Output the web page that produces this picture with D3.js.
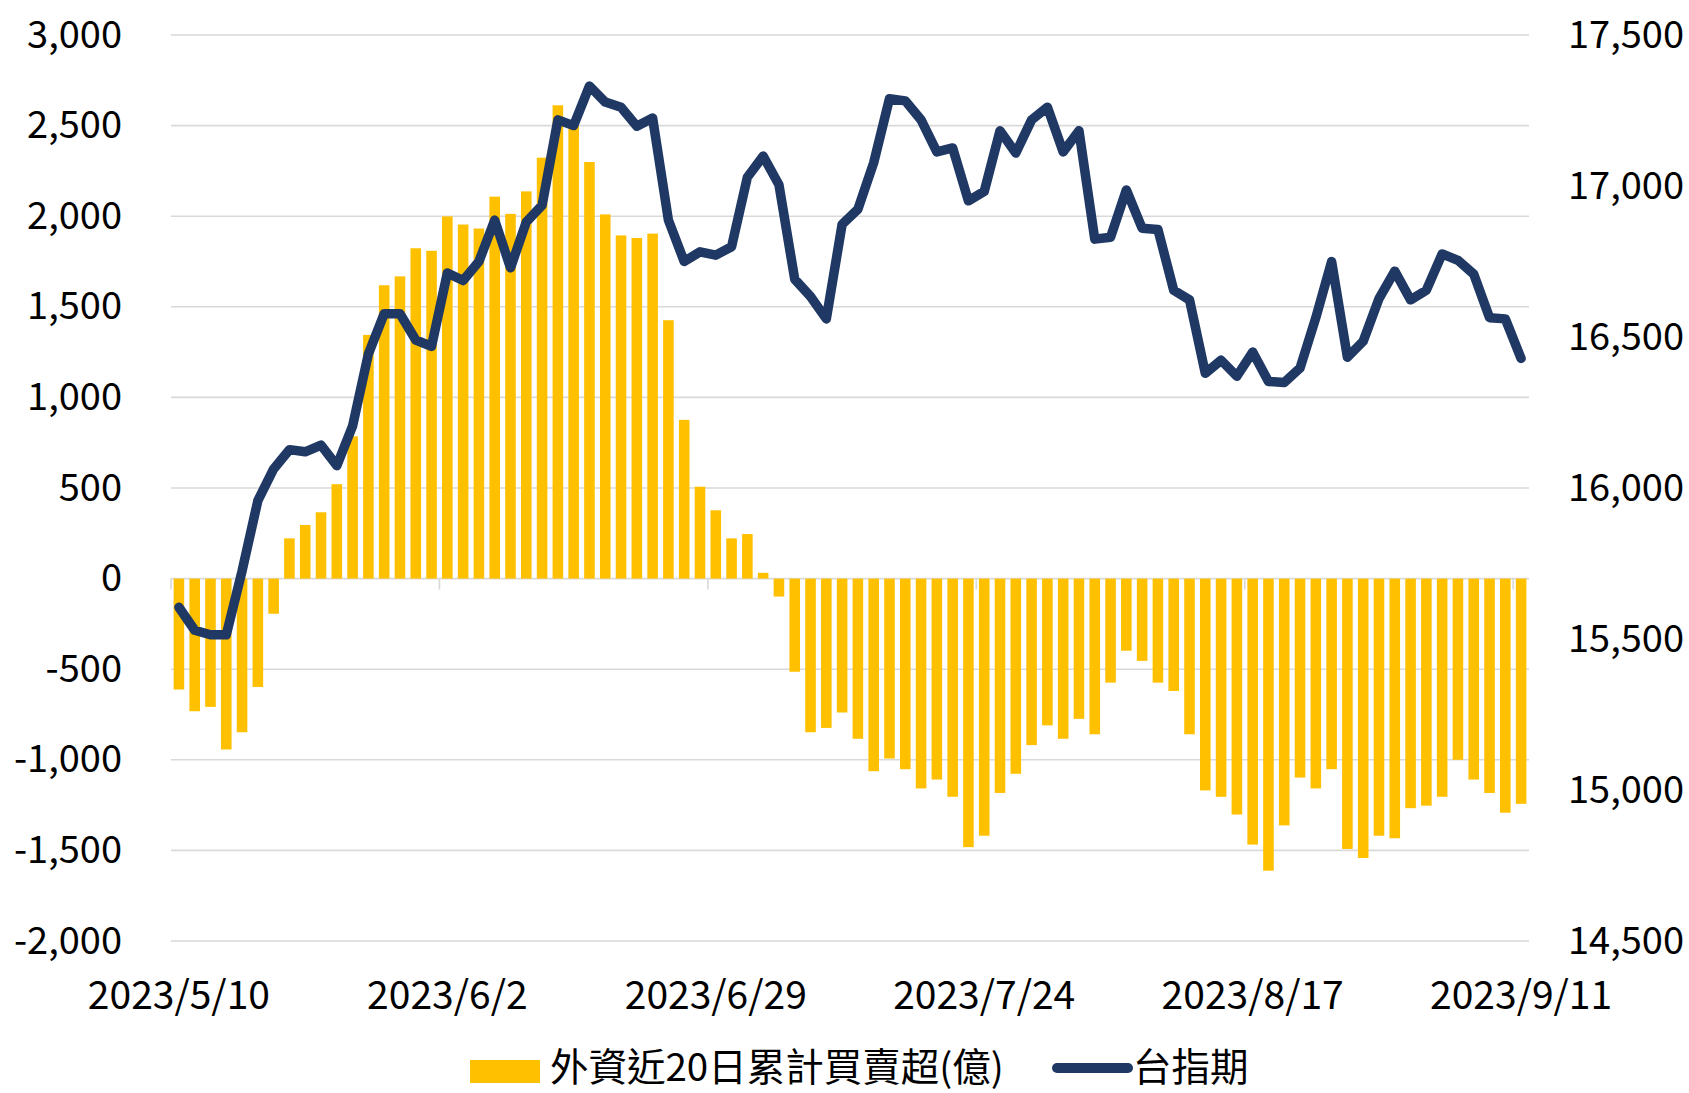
<!DOCTYPE html>
<html>
<head>
<meta charset="utf-8">
<script src="https://cdn.jsdelivr.net/npm/d3@7"></script>
<style>
  body { margin: 0; background: #fff; }
  text { font-family: "Noto Sans CJK TC", "Noto Sans", sans-serif; fill: #000; }
</style>
</head>
<body>
<div id="chart"></div>
<script>
// trading days shown on the category axis
const dates = [
  '2023/5/10','2023/5/11','2023/5/12','2023/5/15','2023/5/16','2023/5/17','2023/5/18','2023/5/19',
  '2023/5/22','2023/5/23','2023/5/24','2023/5/25','2023/5/26','2023/5/29','2023/5/30','2023/5/31',
  '2023/6/1','2023/6/2','2023/6/5','2023/6/6','2023/6/7','2023/6/8','2023/6/9','2023/6/12',
  '2023/6/13','2023/6/14','2023/6/15','2023/6/16','2023/6/19','2023/6/20','2023/6/21','2023/6/26',
  '2023/6/27','2023/6/28','2023/6/29','2023/6/30','2023/7/3','2023/7/4','2023/7/5','2023/7/6',
  '2023/7/7','2023/7/10','2023/7/11','2023/7/12','2023/7/13','2023/7/14','2023/7/17','2023/7/18',
  '2023/7/19','2023/7/20','2023/7/21','2023/7/24','2023/7/25','2023/7/26','2023/7/27','2023/7/28',
  '2023/7/31','2023/8/1','2023/8/2','2023/8/4','2023/8/7','2023/8/8','2023/8/9','2023/8/10',
  '2023/8/11','2023/8/14','2023/8/15','2023/8/16','2023/8/17','2023/8/18','2023/8/21','2023/8/22',
  '2023/8/23','2023/8/24','2023/8/25','2023/8/28','2023/8/29','2023/8/30','2023/8/31','2023/9/1',
  '2023/9/4','2023/9/5','2023/9/6','2023/9/7','2023/9/8','2023/9/11'
]
// 外資近20日累計買賣超(億)
const foreignNet = [
  -612,-732,-708,-943,-848,-598,-194,222,296,366,521,785,1345,1619,1668,1823,
  1809,1999,1954,1932,2108,2013,2137,2323,2612,2500,2299,2010,1894,1880,1904,1426,
  876,507,377,222,246,32,-99,-514,-848,-824,-739,-884,-1063,-993,-1052,-1158,
  -1109,-1204,-1482,-1419,-1183,-1077,-919,-810,-884,-774,-859,-574,-398,-454,-574,-620,
  -859,-1169,-1204,-1302,-1468,-1612,-1362,-1098,-1158,-1052,-1492,-1542,-1419,-1433,-1267,-1253,
  -1204,-1000,-1109,-1183,-1292,-1243
]
// 台指期
const futures = [
  15605,15529,15514,15514,15725,15958,16063,16127,16120,16142,16074,16205,16444,16577,16577,16490,
  16469,16712,16687,16750,16887,16729,16881,16936,17219,17200,17331,17278,17261,17198,17225,16887,
  16750,16782,16771,16799,17029,17099,17004,16691,16634,16560,16873,16923,17077,17289,17282,17219,
  17113,17126,16951,16982,17183,17109,17219,17261,17113,17183,16824,16830,16987,16860,16856,16655,
  16623,16380,16423,16370,16450,16353,16349,16397,16564,16750,16433,16486,16627,16718,16623,16655,
  16775,16754,16708,16564,16560,16429
]
const tickLabels = ['2023/5/10','2023/6/2','2023/6/29','2023/7/24','2023/8/17','2023/9/11']
const leftTicks = [-2000,-1500,-1000,-500,0,500,1000,1500,2000,2500,3000]
const rightTicks = [14500,15000,15500,16000,16500,17000,17500]
const seriesNames = ['外資近20日累計買賣超(億)', '台指期']

const W = 1689, H = 1093
const margin = { top: 35, right: 160, bottom: 152, left: 171 }
const width = W - margin.left - margin.right
const height = H - margin.top - margin.bottom
const barColor = '#FFC000'
const lineColor = '#1F3864'
const gridColor = '#D9D9D9'

const fmt = d3.formatLocale({ decimal: '.', thousands: ',', grouping: [3], currency: ['', ''], minus: '-' }).format(',')

const svg = d3.select('#chart').append('svg')
  .attr('width', W)
  .attr('height', H)
const g = svg.append('g')
  .attr('transform', 'translate(' + margin.left + ',' + margin.top + ')')

const x = d3.scaleBand()
  .domain(dates)
  .range([0, width])
  .paddingInner(0.33)
  .paddingOuter(0.165)
const step = x.step()

const yL = d3.scaleLinear().domain([-2000, 3000]).range([height, 0])
const yR = d3.scaleLinear().domain([14500, 17500]).range([height, 0])

// gridlines
g.append('g')
  .selectAll('line')
  .data(leftTicks)
  .join('line')
    .attr('x1', 0)
    .attr('x2', width)
    .attr('y1', d => yL(d))
    .attr('y2', d => yL(d))
    .attr('stroke', gridColor)
    .attr('stroke-width', 1.6)

// category tick marks on the zero line
g.append('g')
  .selectAll('line')
  .data(tickLabels)
  .join('line')
    .attr('x1', d => x(d) - step * 0.165)
    .attr('x2', d => x(d) - step * 0.165)
    .attr('y1', yL(0))
    .attr('y2', yL(0) + 11)
    .attr('stroke', gridColor)
    .attr('stroke-width', 1.6)

// bars
g.append('g')
  .selectAll('rect')
  .data(foreignNet)
  .join('rect')
    .attr('x', (d, i) => x(dates[i]))
    .attr('width', x.bandwidth())
    .attr('y', d => yL(Math.max(0, d)))
    .attr('height', d => Math.abs(yL(d) - yL(0)))
    .attr('fill', barColor)

// line
const line = d3.line()
  .x((d, i) => x(dates[i]) + x.bandwidth() / 2)
  .y(d => yR(d))
g.append('path')
  .datum(futures)
  .attr('d', line)
  .attr('fill', 'none')
  .attr('stroke', lineColor)
  .attr('stroke-width', 9.5)
  .attr('stroke-linejoin', 'round')
  .attr('stroke-linecap', 'round')

// axes
const leftAxis = g.append('g')
  .call(d3.axisLeft(yL).tickValues(leftTicks).tickFormat(fmt).tickSize(0).tickPadding(49))
const rightAxis = g.append('g')
  .attr('transform', 'translate(' + width + ',0)')
  .call(d3.axisRight(yR).tickValues(rightTicks).tickFormat(fmt).tickSize(0).tickPadding(39))
const bottomAxis = g.append('g')
  .attr('transform', 'translate(0,' + height + ')')
  .call(d3.axisBottom(x).tickValues(tickLabels).tickSize(0).tickPadding(40))
;[leftAxis, rightAxis, bottomAxis].forEach(a => {
  a.select('.domain').remove()
  a.selectAll('text')
    .style('font-family', '"Noto Sans CJK TC", "Noto Sans", sans-serif')
    .style('font-size', a === bottomAxis ? '39px' : '38px')
    .attr('fill', '#000')
})

// legend
const legend = svg.append('g')
legend.append('rect')
  .attr('x', 470)
  .attr('y', 1060)
  .attr('width', 70)
  .attr('height', 23)
  .attr('fill', barColor)
legend.append('text')
  .attr('x', 550)
  .attr('y', 1081)
  .style('font-size', '38.5px')
  .text(seriesNames[0])
legend.append('line')
  .attr('x1', 1057)
  .attr('x2', 1128)
  .attr('y1', 1068)
  .attr('y2', 1068)
  .attr('stroke', lineColor)
  .attr('stroke-width', 10)
  .attr('stroke-linecap', 'round')
legend.append('text')
  .attr('x', 1133)
  .attr('y', 1081)
  .style('font-size', '38.5px')
  .text(seriesNames[1])
</script>
</body>
</html>
